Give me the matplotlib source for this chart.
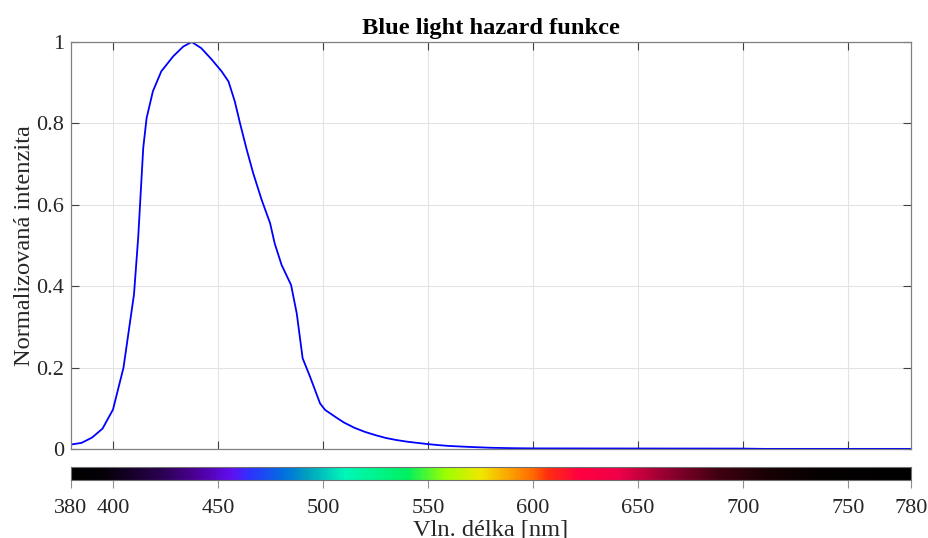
import numpy as np
import matplotlib
matplotlib.use("Agg")
import matplotlib.pyplot as plt
from matplotlib.colors import LinearSegmentedColormap

# blue light hazard function (wavelength nm -> relative value)
wavelength = [380, 385, 390, 395, 400, 405, 410, 412, 414.4, 416, 419, 423, 428.7, 433.5,
              437.5, 442, 447, 451.7, 455, 458, 460.5, 463.7, 466.8, 470.8, 474.8, 477,
              480.3, 484.8, 487.5, 490.3, 493.8, 498.6, 501, 507, 510, 515, 520, 525,
              530, 535, 540, 545, 550, 555, 560, 570, 580, 590, 600, 650, 700, 710, 780]
hazard = [0.011, 0.015, 0.028, 0.05, 0.097, 0.20, 0.38, 0.52, 0.74, 0.813, 0.879, 0.928, 0.965, 0.989,
          1.0, 0.985, 0.957, 0.928, 0.903, 0.854, 0.80, 0.735, 0.677, 0.612, 0.555, 0.505,
          0.452, 0.403, 0.333, 0.223, 0.178, 0.112, 0.096, 0.075, 0.065, 0.052, 0.042, 0.034,
          0.027, 0.022, 0.018, 0.015, 0.012, 0.0095, 0.0075, 0.005, 0.003, 0.002, 0.0015, 0.0012,
          0.001, 0.0003, 0.0003]

# spectrum colours for the bar under the plot
spec_nm = [380, 395, 422, 441, 456, 464, 481, 492, 510, 540, 559, 575, 583, 599,
           607, 622, 641, 665, 689, 713, 737, 780]
spec_col = ["#000000", "#050008", "#2a0050", "#5000a0", "#6010f0", "#3030ff", "#0070e0",
            "#00a0c0", "#00f8b8", "#00f060", "#a0ff00", "#f0e800", "#f8c000", "#ff7000",
            "#ff3010", "#ff0040", "#f00048", "#900030", "#400010", "#180005", "#050000", "#000000"]

xticks = [400, 450, 500, 550, 600, 650, 700, 750]
cticks = [380, 400, 450, 500, 550, 600, 650, 700, 750, 780]
yticks = [0, 0.2, 0.4, 0.6, 0.8, 1]
ylabels = ["0", "0.2", "0.4", "0.6", "0.8", "1"]

plt.rcParams['font.family'] = ['Liberation Serif', 'DejaVu Serif']
W, H = 929, 538
fig = plt.figure(figsize=(W / 100, H / 100), dpi=100)

ax = fig.add_axes([71 / W, 1 - 449 / H, 840 / W, 407 / H])
ax.plot(wavelength, hazard, color='#0000ff', lw=1.3)
ax.set_xlim(380, 780)
ax.set_ylim(0, 1)
ax.set_xticks(xticks)
ax.set_xticklabels([])
ax.set_yticks(yticks)
ax.set_yticklabels(ylabels)
ax.grid(True, color='#e3e3e3', lw=0.8)
ax.tick_params(direction='in', length=6, width=0.8, color='#404040', labelsize=16,
               labelcolor='#262626', top=True, right=True, pad=5)
for s in ax.spines.values():
    s.set_color('#808080')
    s.set_linewidth(0.9)
ax.set_ylabel("Normalizovaná intenzita", fontsize=17.6, color='#262626', labelpad=1)
ax.set_title("Blue light hazard funkce", fontsize=17.6, fontweight='bold', pad=6)

# spectrum bar
pos = [(v - 380) / 400 for v in spec_nm]
cmap = LinearSegmentedColormap.from_list("spec", list(zip(pos, spec_col)))
cax = fig.add_axes([71 / W, 1 - 480 / H, 840 / W, 13 / H])
cax.imshow(np.linspace(0, 1, 800)[None, :], aspect='auto', cmap=cmap,
           extent=[380, 780, 0, 1])
cax.set_xlim(380, 780)
cax.set_xticks(cticks)
cax.set_yticks([])
cax.tick_params(axis='x', direction='out', length=6, width=0.8, color='#909090',
                labelsize=16, labelcolor='#262626', pad=8)
for s in cax.spines.values():
    s.set_color('#707070')
    s.set_linewidth(0.8)
cax.set_xlabel("Vln. délka [nm]", fontsize=17.6, color='#262626', labelpad=1)

fig.savefig("out.png", dpi=100)
